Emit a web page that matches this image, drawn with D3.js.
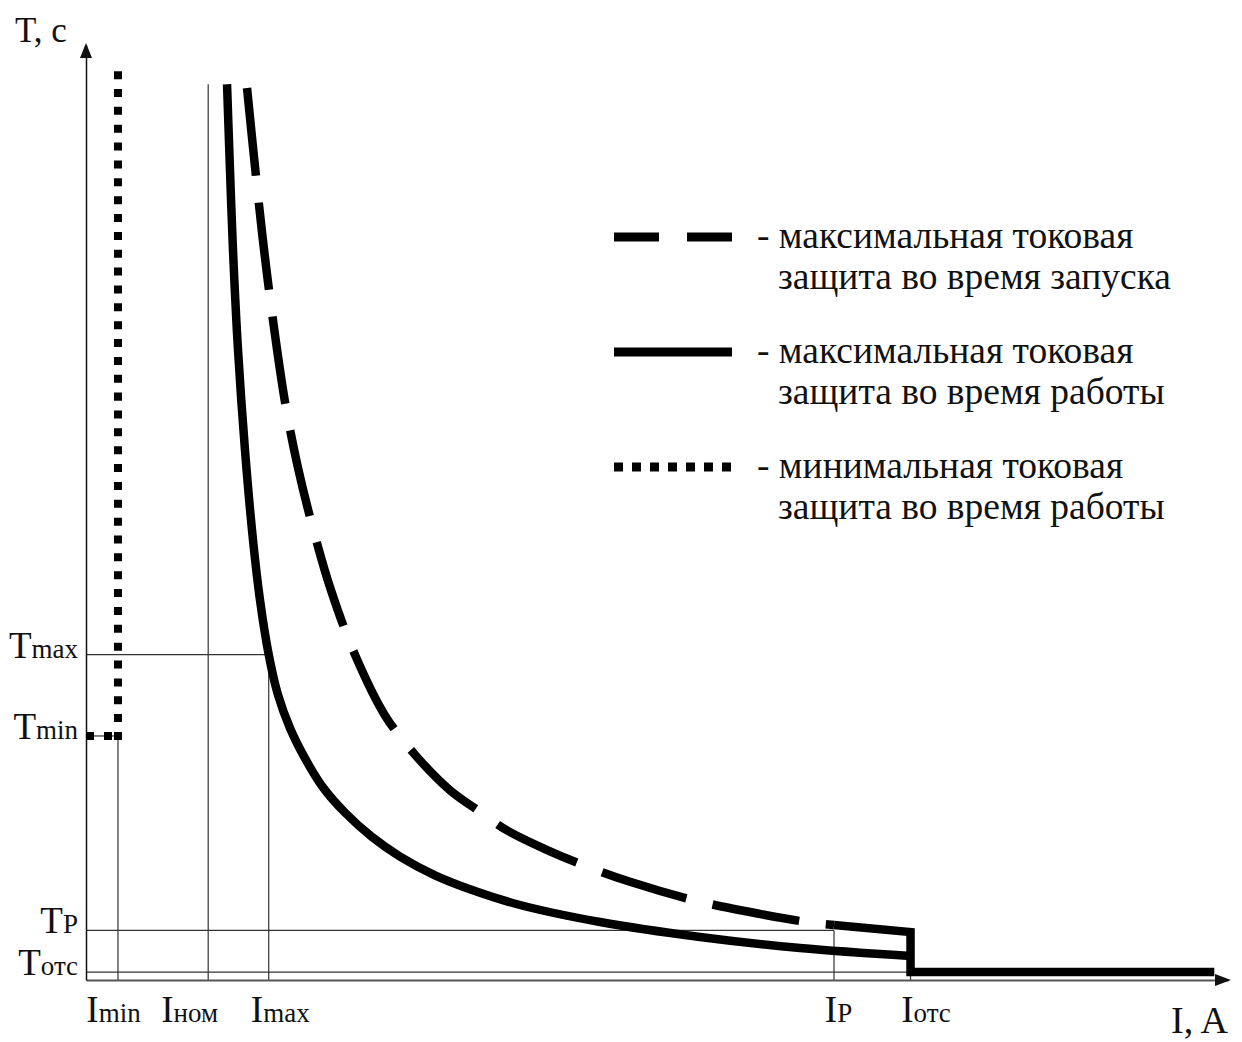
<!DOCTYPE html>
<html>
<head>
<meta charset="utf-8">
<script src="https://cdn.jsdelivr.net/npm/d3@7"></script>
<style>
  body { margin: 0; background: #fff; }
  text { font-family: "Liberation Serif", "Times New Roman", serif; fill: #111; }
</style>
</head>
<body>
<svg id="chart" width="1242" height="1042"></svg>
<script>
// characteristic currents (relative units along I axis) and their labels
const currentNames = [['I', 'min'], ['I', 'ном'], ['I', 'max'], ['I', 'Р'], ['I', 'отс']];
const currents = [2.8, 10.7, 16.0, 65.5, 72.2];

// characteristic times (relative units along T axis)
const timeNames = [['T', 'max'], ['T', 'min'], ['T', 'Р'], ['T', 'отс']];
const times = [34.8, 26.1, 5.3, 0.85];

// max current protection during operation (solid)
const runI = [12.35, 12.61, 12.87, 13.31, 13.92, 14.62, 15.24, 16.0, 16.81, 17.86, 19.18, 20.75, 22.68, 25.04, 27.50, 30.56, 34.06, 38.00, 45.01, 53.77, 62.52, 72.2];
const runT = [95.8, 86.6, 78.1, 67.4, 56.7, 47.1, 40.6, 34.8, 30.5, 26.95, 23.7, 20.6, 17.9, 15.3, 13.2, 11.2, 9.52, 8.02, 6.20, 4.60, 3.42, 2.57];

// max current protection during start-up (dashed)
const startI = [14.10, 14.89, 15.59, 16.37, 17.43, 18.56, 19.88, 21.45, 23.55, 26.18, 28.81, 31.87, 34.50, 36.87, 40.19, 43.52, 47.64, 53.15, 58.14, 63.13, 65.5];
const startT = [95.4, 85.9, 78.1, 70.6, 61.8, 54.8, 48.3, 41.7, 34.8, 28.3, 24.1, 20.3, 18.0, 16.0, 14.0, 12.3, 10.5, 8.56, 7.27, 6.20, 5.88];
const startEndT = 5.13;   // at I_отс, before cut-off drop

const cutoffEndI = 98.8;  // end of the cut-off line
const guideTopT = 95.8;   // top of I_ном guide
const dottedTopT = 96.8;  // top of min current protection

const legendNames = [
  ['- максимальная токовая', 'защита во время запуска'],
  ['- максимальная токовая', 'защита во время работы'],
  ['- минимальная токовая', 'защита во время работы']
];

const svg = d3.select('#chart');
const x = d3.scaleLinear().domain([0, 100]).range([86, 1228]);
const y = d3.scaleLinear().domain([0, 100]).range([980, 45]);

const [iMin, iNom, iMax, iP, iOtc] = currents;
const [tMax, tMin, tP, tOtc] = times;

// thin guide lines
const guides = [
  [iMin, 0, iMin, tMin], [iNom, 0, iNom, guideTopT], [iMax, 0, iMax, tMax],
  [iP, 0, iP, tP], [iOtc, 0, iOtc, tOtc],
  [0, tMax, iMax, tMax], [0, tMin, iMin, tMin], [0, tP, iP, tP], [0, tOtc, iOtc, tOtc]
];
svg.append('g')
  .selectAll('line')
  .data(guides)
  .enter()
  .append('line')
  .attr('x1', d => x(d[0])).attr('y1', d => y(d[1]))
  .attr('x2', d => x(d[2])).attr('y2', d => y(d[3]))
  .attr('stroke', '#333')
  .attr('stroke-width', 1.2);

// axes
const xAxis = svg.append('g')
  .attr('transform', 'translate(0,' + y(0) + ')')
  .call(d3.axisBottom(x).tickValues(currents).tickSize(0).tickSizeOuter(0).tickPadding(38));
const yAxis = svg.append('g')
  .attr('transform', 'translate(' + x(0) + ',0)')
  .call(d3.axisLeft(y).tickValues(times).tickSize(0).tickSizeOuter(0).tickPadding(8));
xAxis.select('.domain').attr('stroke', '#555').attr('stroke-width', 2);
yAxis.select('.domain').attr('stroke', '#111').attr('stroke-width', 1.5);

function subLabel(sel, names) {
  sel.selectAll('text')
    .text('')
    .attr('font-family', null)
    .attr('font-size', null)
    .attr('fill', '#111')
    .each(function(d, i) {
      const t = d3.select(this);
      t.append('tspan').style('font-size', '37px').text(names[i][0]);
      t.append('tspan').style('font-size', '27px').text(names[i][1]);
    });
}
subLabel(xAxis, currentNames);
// hand placement of the current labels, as in the drawing
const labelNudge = [-5, -19, 11, 4, 15];
xAxis.selectAll('text').attr('dy', '0.4em').attr('dx', (d, i) => labelNudge[i]);
subLabel(yAxis, timeNames);
yAxis.selectAll('text').attr('dy', '0.25em');

// arrows
svg.append('path')
  .attr('d', d3.line()([[x(0) - 6, 58], [x(0), 43], [x(0) + 6, 58]]) + 'Z')
  .attr('fill', '#111');
svg.append('path')
  .attr('d', d3.line()([[1215, y(0) - 6], [1231, y(0)], [1215, y(0) + 6]]) + 'Z')
  .attr('fill', '#111');

svg.append('text').attr('x', 15).attr('y', 42).style('font-size', '35px').text('T, c');
svg.append('text').attr('x', 1228).attr('y', 1033).attr('text-anchor', 'end').style('font-size', '38px').text('I, A');

// curves
const curve = d3.line().x(d => x(d[0])).y(d => y(d[1])).curve(d3.curveCatmullRom.alpha(0.5));
const straight = d3.line().x(d => x(d[0])).y(d => y(d[1]));

svg.append('path')
  .attr('d', curve(runI.map((v, i) => [v, runT[i]])))
  .attr('fill', 'none').attr('stroke', '#000').attr('stroke-width', 8.5);

svg.append('path')
  .attr('d', curve(startI.map((v, i) => [v, startT[i]])))
  .attr('fill', 'none').attr('stroke', '#000').attr('stroke-width', 8.5)
  .attr('stroke-dasharray', '88,27');

svg.append('path')
  .attr('d', straight([[iP, startT[startT.length - 1]], [iOtc, startEndT], [iOtc, tOtc], [cutoffEndI, tOtc]]))
  .attr('fill', 'none').attr('stroke', '#000').attr('stroke-width', 8.5)
  .attr('stroke-linejoin', 'miter');

// minimum current protection (dotted)
svg.append('path')
  .attr('d', straight([[iMin, tMin], [iMin, dottedTopT]]))
  .attr('fill', 'none').attr('stroke', '#000').attr('stroke-width', 8)
  .attr('stroke-linecap', 'square').attr('stroke-dasharray', '0.01,17.85');
svg.append('path')
  .attr('d', straight([[0, tMin], [iMin, tMin]]))
  .attr('fill', 'none').attr('stroke', '#000').attr('stroke-width', 8)
  .attr('stroke-dasharray', '8,10');

// legend
const legendDash = ['45,28', null, '9,9'];
const legend = svg.append('g')
  .selectAll('g')
  .data(legendNames)
  .enter()
  .append('g')
  .attr('transform', (d, i) => 'translate(614,' + (237 + i * 115) + ')');
legend.append('line')
  .attr('x1', 0).attr('x2', 118)
  .attr('stroke', '#000').attr('stroke-width', 9)
  .attr('stroke-dasharray', (d, i) => legendDash[i]);
legend.append('text')
  .attr('x', 143).attr('y', 11)
  .style('font-size', '37.5px')
  .text(d => d[0]);
legend.append('text')
  .attr('x', 164).attr('y', 52)
  .style('font-size', '37.5px')
  .text(d => d[1]);
</script>
</body>
</html>
